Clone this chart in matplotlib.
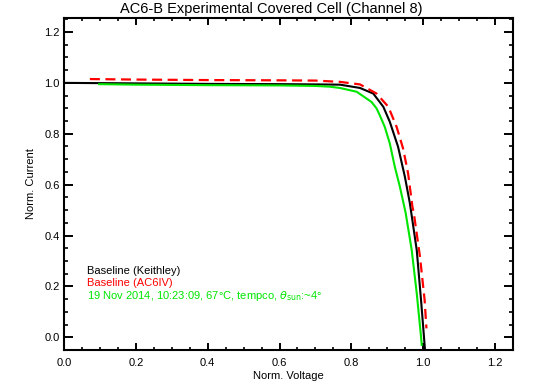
import numpy as np
import matplotlib
matplotlib.use('Agg')
import matplotlib.pyplot as plt
from matplotlib.ticker import MultipleLocator

plt.rcParams['font.family'] = ['Liberation Sans', 'DejaVu Sans']

# Baseline (Keithley)
v_keith = [0.0, 0.2, 0.4, 0.6, 0.7, 0.768, 0.824, 0.861, 0.889, 0.907, 0.930,
           0.949, 0.963, 0.982, 0.994, 1.000, 1.005]
i_keith = [1.000, 0.998, 0.996, 0.995, 0.994, 0.993, 0.980, 0.958, 0.906, 0.847,
           0.749, 0.631, 0.526, 0.343, 0.146, 0.040, -0.050]

# Baseline (AC6IV)
v_ac6 = [0.072, 0.2, 0.4, 0.6, 0.7, 0.768, 0.824, 0.870, 0.903, 0.926, 0.944,
         0.958, 0.970, 0.974, 0.991, 1.004, 1.009]
i_ac6 = [1.015, 1.013, 1.011, 1.010, 1.009, 1.004, 0.994, 0.958, 0.906, 0.827,
         0.742, 0.644, 0.513, 0.487, 0.317, 0.146, 0.035]

# 19 Nov 2014 measurement
v_meas = [0.098, 0.2, 0.4, 0.6, 0.7, 0.74, 0.768, 0.815, 0.856, 0.870, 0.879,
          0.893, 0.907, 0.921, 0.935, 0.951, 0.968, 0.982, 0.993, 0.996]
i_meas = [0.995, 0.993, 0.991, 0.990, 0.988, 0.985, 0.980, 0.965, 0.925, 0.900,
          0.873, 0.827, 0.762, 0.670, 0.592, 0.490, 0.343, 0.173, 0.016, -0.030]

labels = ['Baseline (Keithley)', 'Baseline (AC6IV)',
          r'19 Nov 2014, 10:23:09, 67°C, tempco, $\theta_{\rm sun}$:~4°']

fig = plt.figure(figsize=(5.42, 3.85), dpi=100)
ax = fig.add_axes([64 / 542, 1 - 350 / 385, (513 - 64) / 542, (350 - 18) / 385])

green = '#00e600'
ax.plot(v_keith, i_keith, color='black', lw=1.5)
ax.plot(v_ac6, i_ac6, color='red', lw=1.6, ls=(0, (4.5, 2.5)))
ax.plot(v_meas, i_meas, color=green, lw=1.5)

ax.set_xlim(0, 1.25)
ax.set_ylim(-0.05, 1.255)
ax.xaxis.set_major_locator(MultipleLocator(0.2))
ax.xaxis.set_minor_locator(MultipleLocator(0.05))
ax.yaxis.set_major_locator(MultipleLocator(0.2))
ax.yaxis.set_minor_locator(MultipleLocator(0.05))
ax.xaxis.set_major_formatter(plt.FuncFormatter(lambda v, p: f'{v:.1f}'))
ax.yaxis.set_major_formatter(plt.FuncFormatter(lambda v, p: f'{v:.1f}'))

for s in ax.spines.values():
    s.set_linewidth(1.5)
ax.tick_params(axis='x', which='major', direction='in', length=4.8, width=1.4,
               top=True, labelsize=8, pad=6)
ax.tick_params(axis='x', which='minor', direction='in', length=2.4, width=1.2, top=True)
ax.tick_params(axis='y', which='major', direction='in', length=6.5, width=1.4,
               right=True, labelsize=8, pad=3)
ax.tick_params(axis='y', which='minor', direction='in', length=3.2, width=1.2, right=True)

ax.set_xlabel('Norm. Voltage', fontsize=8, labelpad=2)
ax.set_ylabel('Norm. Current', fontsize=8, labelpad=6)
fig.text(0.5, 1 - 9 / 385, 'AC6-B Experimental Covered Cell (Channel 8)',
         ha='center', va='center', fontsize=10.5)

for k, (txt, col) in enumerate(zip(labels, ['black', 'red', green])):
    fig.text(87 / 542, 1 - (271 + 12.3 * k) / 385, txt, color=col,
             fontsize=8, va='center', ha='left')

fig.savefig('out.png', dpi=100)
